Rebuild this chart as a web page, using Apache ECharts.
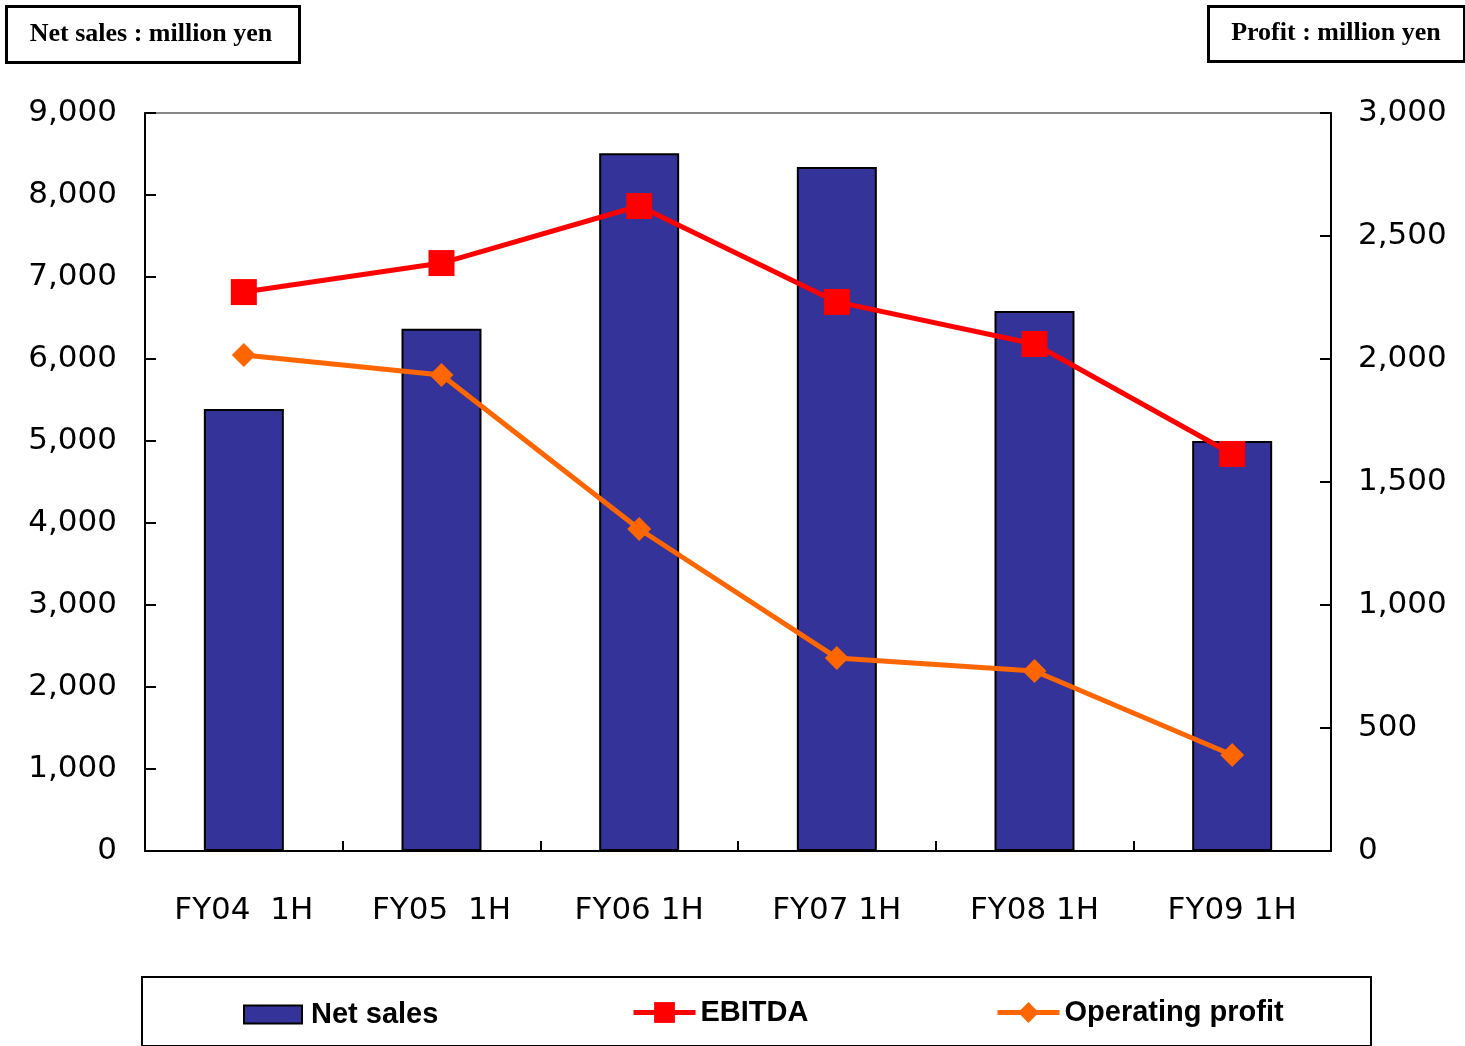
<!DOCTYPE html>
<html>
<head>
<meta charset="utf-8">
<script src="https://cdn.jsdelivr.net/npm/echarts@6/dist/echarts.min.js"></script>
<style>
  html, body { margin: 0; padding: 0; background: #fff; }
  #chart { width: 1465px; height: 1046px; }
</style>
</head>
<body>
<div id="chart"></div>
<script>
// Half-year results (million yen)
const categories = ['FY04  1H', 'FY05  1H', 'FY06 1H', 'FY07 1H', 'FY08 1H', 'FY09 1H'];
const netSales = [5390, 6370, 8510, 8340, 6585, 5000];
const ebitda = [2272, 2390, 2622, 2232, 2061, 1614];
const operatingProfit = [2016, 1935, 1309, 785, 732, 390];

const salesTicks = { min: 0, max: 9000, interval: 1000 };
const profitTicks = { min: 0, max: 3000, interval: 500 };

const axisFont = { fontFamily: 'DejaVu Sans', fontSize: 31, color: '#000' };
const legendFont = { fontFamily: 'Liberation Sans Narrow, Liberation Sans, sans-serif', fontSize: 29, fontWeight: 'bold', color: '#000' };
const headerFont = 'bold 26px "Liberation Serif", "Times New Roman", serif';

const fmt = v => v.toLocaleString('en-US');

const chart = echarts.init(document.getElementById('chart'), null, { renderer: 'canvas' });

chart.setOption({
  backgroundColor: '#fff',
  animation: false,
  grid: {
    left: 145, right: 134, top: 113, bottom: 195,
    show: true, borderColor: '#888', borderWidth: 2, backgroundColor: 'transparent'
  },
  xAxis: {
    type: 'category',
    data: categories,
    axisLine: { lineStyle: { color: '#000', width: 2 } },
    axisTick: { show: true, inside: true, length: 10, alignWithLabel: false, lineStyle: { color: '#000', width: 2 } },
    axisLabel: Object.assign({ margin: 44, interval: 0 }, axisFont)
  },
  yAxis: [
    {
      type: 'value', position: 'left',
      min: salesTicks.min, max: salesTicks.max, interval: salesTicks.interval,
      axisLine: { show: true, lineStyle: { color: '#000', width: 2 } },
      axisTick: { show: true, inside: true, length: 11, lineStyle: { color: '#000', width: 2 } },
      splitLine: { show: false },
      axisLabel: Object.assign({ margin: 28, formatter: fmt }, axisFont)
    },
    {
      type: 'value', position: 'right',
      min: profitTicks.min, max: profitTicks.max, interval: profitTicks.interval,
      axisLine: { show: true, lineStyle: { color: '#000', width: 2 } },
      axisTick: { show: true, inside: true, length: 11, lineStyle: { color: '#000', width: 2 } },
      splitLine: { show: false },
      axisLabel: Object.assign({ margin: 27, formatter: fmt }, axisFont)
    }
  ],
  legend: [
    {
      data: [{ name: 'Net sales', icon: 'rect', itemStyle: { borderColor: '#000', borderWidth: 2 } }],
      left: 238, top: 995,
      itemWidth: 58, itemHeight: 18, itemGap: 8,
      textStyle: Object.assign({ padding: [0, 0, 0, 4] }, legendFont)
    },
    {
      data: [{ name: 'EBITDA' }],
      left: 626, top: 993,
      itemWidth: 62, itemHeight: 26, itemGap: 8,
      lineStyle: { width: 5 },
      textStyle: legendFont
    },
    {
      data: [{ name: 'Operating profit' }],
      left: 990, top: 993,
      itemWidth: 62, itemHeight: 26, itemGap: 8,
      lineStyle: { width: 5 },
      textStyle: legendFont
    }
  ],
  series: [
    {
      name: 'Net sales', type: 'bar', yAxisIndex: 0,
      data: netSales, barWidth: 80,
      itemStyle: { color: '#333399', borderColor: '#000', borderWidth: 2 }
    },
    {
      name: 'EBITDA', type: 'line', yAxisIndex: 1,
      data: ebitda, symbol: 'rect', symbolSize: 26,
      lineStyle: { color: '#ff0000', width: 5 },
      itemStyle: { color: '#ff0000' }
    },
    {
      name: 'Operating profit', type: 'line', yAxisIndex: 1,
      data: operatingProfit, symbol: 'diamond', symbolSize: 24,
      lineStyle: { color: '#ff6600', width: 5 },
      itemStyle: { color: '#ff6600' }
    }
  ],
  graphic: [
    {
      type: 'rect', left: 5, top: 5,
      shape: { width: 293, height: 56 },
      style: { fill: '#fff', stroke: '#000', lineWidth: 3 }
    },
    {
      type: 'text', x: 151, y: 34,
      style: { text: 'Net sales : million yen', font: headerFont, fill: '#000', align: 'center', verticalAlign: 'middle' }
    },
    {
      type: 'rect', left: 1207, top: 5,
      shape: { width: 256, height: 55 },
      style: { fill: '#fff', stroke: '#000', lineWidth: 3 }
    },
    {
      type: 'text', x: 1336, y: 33,
      style: { text: 'Profit : million yen', font: headerFont, fill: '#000', align: 'center', verticalAlign: 'middle' }
    },
    {
      type: 'rect', left: 141, top: 976, z: -1,
      shape: { width: 1229, height: 69 },
      style: { fill: '#fff', stroke: '#000', lineWidth: 2 }
    }
  ]
});
</script>
</body>
</html>
